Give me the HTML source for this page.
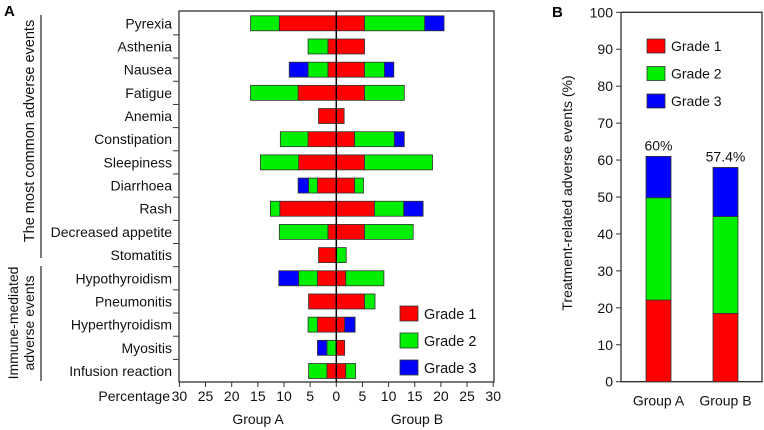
<!DOCTYPE html>
<html><head><meta charset="utf-8">
<style>
html,body{margin:0;padding:0;background:#fff;}
svg{display:block;font-family:"Liberation Sans",Arial,sans-serif;}
</style></head>
<body>
<svg id="c" width="764" height="430" viewBox="0 0 764 430" xmlns="http://www.w3.org/2000/svg">
<text x="4" y="16" font-size="15" font-weight="bold">A</text>
<text x="552" y="17" font-size="15" font-weight="bold">B</text>
</svg>
<script>
const events = ["Pyrexia","Asthenia","Nausea","Fatigue","Anemia","Constipation","Sleepiness","Diarrhoea","Rash","Decreased appetite","Stomatitis","Hypothyroidism","Pneumonitis","Hyperthyroidism","Myositis","Infusion reaction"];
const groupAG1 = [10.9,1.6,1.6,7.3,3.4,5.4,7.2,3.6,10.8,1.6,3.4,3.6,5.3,3.6,0,1.8];
const groupAG2 = [5.5,3.8,3.8,9.1,0,5.3,7.3,1.7,1.8,9.3,0,3.6,0,1.8,1.8,3.5];
const groupAG3 = [0,0,3.6,0,0,0,0,2.0,0,0,0,3.8,0,0,1.8,0];
const groupBG1 = [5.4,5.4,5.4,5.4,1.5,3.5,5.4,3.5,7.3,5.4,0,1.8,5.4,1.6,1.6,1.8];
const groupBG2 = [11.5,0,3.8,7.6,0,7.6,13.0,1.7,5.6,9.3,1.9,7.3,2.0,0,0,1.9];
const groupBG3 = [3.7,0,1.8,0,0,1.9,0,0,3.7,0,0,0,0,2.0,0,0];
const xTicks = [30,25,20,15,10,5,0,5,10,15,20,25,30];
const bGroups = ["Group A","Group B"];
const bG1 = [22.1,18.5];
const bG2 = [27.7,26.2];
const bG3 = [11.2,13.3];
const bTotals = ["60%","57.4%"];
const yTicksB = [0,10,20,30,40,50,60,70,80,90,100];
const gradeNames = ["Grade 1","Grade 2","Grade 3"];
const colors = ["#ff0000","#00ee00","#0000ff"];

const svg = document.getElementById('c');
const NS = "http://www.w3.org/2000/svg";
function mk(tag, attrs, text){const e=document.createElementNS(NS,tag);for(const k in attrs)e.setAttribute(k,attrs[k]);if(text!==undefined)e.textContent=text;svg.appendChild(e);return e;}

const ax0 = 336.3, aScale = 5.23, aTop = 11, aBot = 382, aLeft = 179, aRight = 494;
const rowY0 = 23.3, rowStep = 23.18;
const xA = v => ax0 - v*aScale;
const xB = v => ax0 + v*aScale;
const rowY = i => rowY0 + i*rowStep;

let fr = mk('rect',{x:aLeft,y:aTop,width:aRight-aLeft,height:aBot-aTop,fill:"none",stroke:"#333","stroke-width":1.3});



events.forEach((name,i)=>{
  const y = rowY(i);
  const t = mk('text',{x:172,y:y+5,"font-size":14,"text-anchor":"end",fill:"#111"},name);
  
  
  if(i>0){
    const tk = mk('line',{x1:173,x2:aLeft,y1:y-rowStep/2,y2:y-rowStep/2,stroke:"#333"});
    
    
  }
  const aVals=[groupAG1[i],groupAG2[i],groupAG3[i]];
  const bVals=[groupBG1[i],groupBG2[i],groupBG3[i]];
  let c=0;
  aVals.forEach((v,g)=>{ if(v>0){ const r=mk('rect',{x:xA(c+v),y:y-7.5,width:xA(c)-xA(c+v),height:15,fill:colors[g],stroke:"#333","stroke-width":0.8});
    
     c+=v; }});
  c=0;
  bVals.forEach((v,g)=>{ if(v>0){ const r=mk('rect',{x:xB(c),y:y-7.5,width:xB(c+v)-xB(c),height:15,fill:colors[g],stroke:"#333","stroke-width":0.8});
    
     c+=v; }});
});
let zl = mk('line',{x1:ax0,x2:ax0,y1:aTop,y2:aBot,stroke:"#000","stroke-width":1.5});



xTicks.forEach((v,i)=>{
  const x = i<6 ? xA(v) : xB(v);
  const l = mk('line',{x1:x,x2:x,y1:aBot,y2:aBot+5,stroke:"#333"});
  
  
  const t = mk('text',{x:x,y:aBot+19,"font-size":14,"text-anchor":"middle",fill:"#111"},String(v));
  
  
});
let pt = mk('text',{x:170,y:aBot+19,"font-size":14,"text-anchor":"end",fill:"#111"},"Percentage");


let ga = mk('text',{x:258,y:aBot+42,"font-size":14,"text-anchor":"middle",fill:"#111"},"Group A");


let gb = mk('text',{x:417,y:aBot+42,"font-size":14,"text-anchor":"middle",fill:"#111"},"Group B");



let b1 = mk('line',{x1:41,x2:41,y1:15,y2:258,stroke:"#333","stroke-width":1.3});


let b2 = mk('line',{x1:41,x2:41,y1:266,y2:381,stroke:"#333","stroke-width":1.3});


let t1 = mk('text',{"font-size":14.5,"text-anchor":"middle",fill:"#111",transform:"translate(34,131) rotate(-90)"},"The most common adverse events");


let t2 = mk('text',{"font-size":14,"text-anchor":"middle",fill:"#111",transform:"translate(18,323) rotate(-90)"},"Immune-mediated");


let t3 = mk('text',{"font-size":14,"text-anchor":"middle",fill:"#111",transform:"translate(34,323) rotate(-90)"},"adverse events");



gradeNames.forEach((n,g)=>{
  const y = 306 + g*27;
  const r = mk('rect',{x:400,y:y,width:18,height:15,fill:colors[g],stroke:"#333","stroke-width":0.8});
  
  
  const t = mk('text',{x:424,y:y+13,"font-size":14.5,fill:"#111"},n);
  
  
});

const bx = 621, bTop=12.3, bBot=381.7, bRight=762;
const yB = v => bBot - v*(bBot-bTop)/100;
let ba = mk('path',{d:`M${bx},${bTop} V${bBot} H${bRight} V${bTop} H${bx}`,fill:"none",stroke:"#333","stroke-width":1.3});


yTicksB.forEach(v=>{
  const l = mk('line',{x1:bx-5,x2:bx,y1:yB(v),y2:yB(v),stroke:"#333"});
  
  
  const t = mk('text',{x:bx-8,y:yB(v)+5,"font-size":14,"text-anchor":"end",fill:"#111"},String(v));
  
  
});
let yt = mk('text',{"font-size":14,"text-anchor":"middle",fill:"#111",transform:"translate(572,193) rotate(-90)"},"Treatment-related adverse events (%)");


const bCenters=[658.5,725.5];
bGroups.forEach((name,i)=>{
  const cx=bCenters[i]; let c=0;
  [bG1[i],bG2[i],bG3[i]].forEach((v,g)=>{
    const r = mk('rect',{x:cx-12.5,y:yB(c+v),width:25,height:yB(c)-yB(c+v),fill:colors[g],stroke:"#333","stroke-width":0.8});
    
    
    c+=v;
  });
  const tl = mk('text',{x:cx,y:yB(c)-6,"font-size":14,"text-anchor":"middle",fill:"#111"},bTotals[i]);
  
  
  const xl = mk('text',{x:cx,y:bBot+24,"font-size":14,"text-anchor":"middle",fill:"#111"},name);
  
  
});
gradeNames.forEach((n,g)=>{
  const y = 39 + g*27.5;
  const r = mk('rect',{x:647,y:y,width:18,height:14,fill:colors[g],stroke:"#333","stroke-width":0.8});
  
  
  const t = mk('text',{x:671,y:y+12,"font-size":14,fill:"#111"},n);
  
  
});
</script>
</body></html>
